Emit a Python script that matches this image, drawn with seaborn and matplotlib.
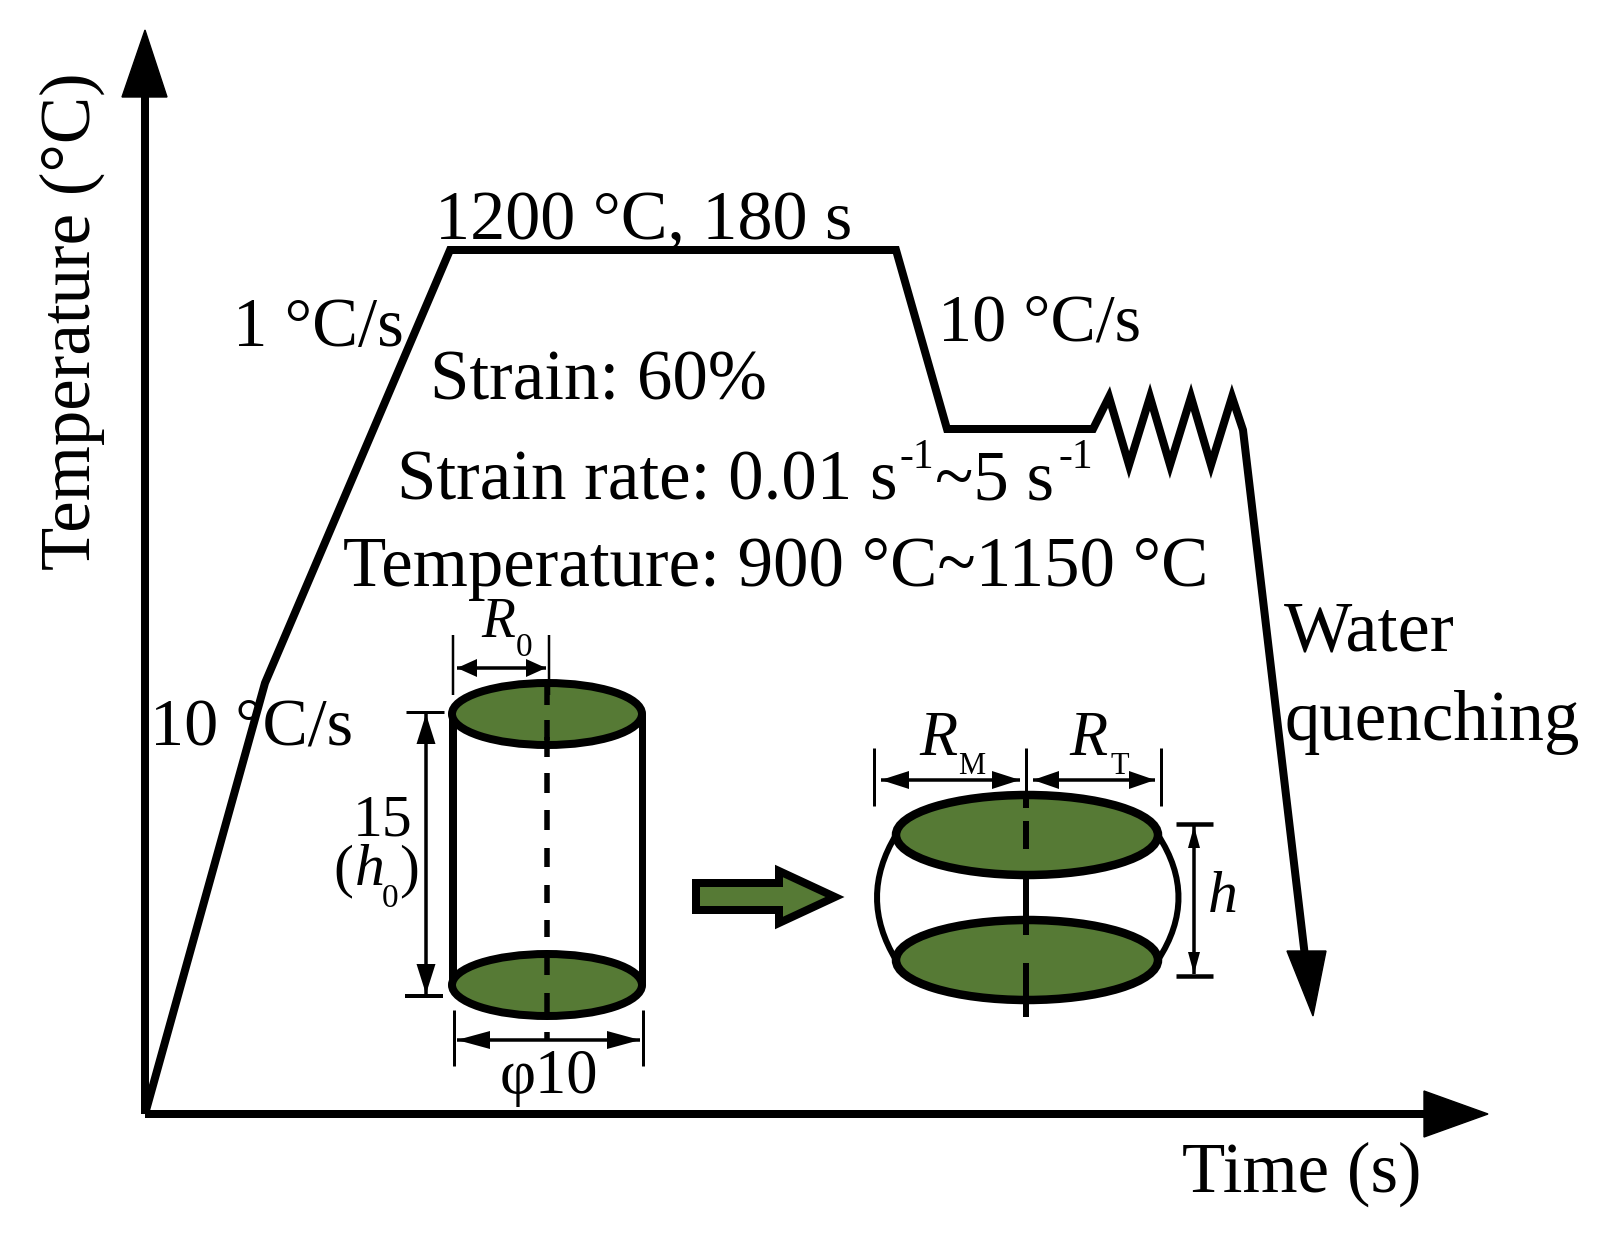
import matplotlib
matplotlib.use("Agg")
import matplotlib.pyplot as plt
from matplotlib.patches import Ellipse, PathPatch, Polygon
from matplotlib.path import Path
import seaborn as sns

# Thermal schedule (figure pixel units)
profile_x = [145, 265, 450, 896, 947, 1093, 1109, 1129, 1150, 1170, 1191, 1211, 1232, 1243, 1306]
profile_y = [1114, 683, 250, 250, 429, 429, 397, 465, 397, 465, 397, 465, 397, 430, 965]
y_axis_x, y_axis_y = [145, 145], [1114, 90]
x_axis_x, x_axis_y = [145, 1430], [1114, 1114]
heads = [
    [(122, 97), (145, 30), (167, 97)],
    [(1424, 1091), (1488, 1114), (1424, 1137)],
    [(1287, 951), (1313, 1016), (1326, 951)],
]

GREEN = "#567a35"
# Cylinder
cyl_left, cyl_right, cyl_cx = 453, 642, 547
cyl_top, cyl_bot = 714, 985
cyl_rx, cyl_ry = 95, 31
cyl_dash_y = [(685, 705), (720, 740), (737, 757), (773, 793), (810, 830), (848, 867),
              (885, 903), (920, 937), (953, 975), (993, 1013), (1032, 1041)]
# Barrel
bar_cx, bar_rx, bar_ry = 1027, 131, 40
bar_top, bar_bot = 835, 960
bar_side_ctrl = (858, 1199)
bar_dash_y = [(791, 808), (821, 849), (875, 935), (963, 1017)]
# Block arrow
block = [(696, 883), (779, 883), (779, 871), (835, 897), (779, 923), (779, 910), (696, 910)]

# Thin dimension tick segments: x0, y0, x1, y1, width (px)
ticks = [
    (453, 635, 453, 695, 2.5), (549, 635, 549, 695, 2.5),
    (406, 712, 444, 712, 3), (405, 996, 443, 996, 4),
    (454, 1010, 454, 1066, 3), (643, 1010, 643, 1066, 3),
    (874, 748, 874, 806, 3), (1026, 748, 1026, 800, 3), (1161, 748, 1161, 806, 3),
    (1176, 824, 1213, 824, 4.5), (1176, 976, 1213, 976, 4.5),
]
# Double arrows: x0, y0, x1, y1, head length, head height
dims = [
    (457, 668, 546, 668, 20, 18),
    (426, 714, 426, 994, 30, 19),
    (457, 1040, 640, 1040, 33, 18),
    (881, 780, 1020, 780, 28, 18),
    (1033, 780, 1155, 780, 26, 18),
    (1194, 826, 1194, 974, 22, 12),
]

# Labels: text, x, y (baseline), size, style
labels = [
    ("1200 °C, 180 s", 435, 239, 50.5, "normal"),
    ("1 °C/s", 233, 346, 49.5, "normal"),
    ("Strain: 60%", 430, 400, 51, "normal"),
    ("Strain rate: 0.01 s", 397, 499, 51, "normal"),
    ("~5 s", 935, 499, 51, "normal"),
    ("-1", 899, 468, 30, "normal"),
    ("-1", 1058, 468, 30, "normal"),
    ("Temperature: 900 °C~1150 °C", 343, 586, 51, "normal"),
    ("10 °C/s", 150, 744, 49, "normal"),
    ("10 °C/s", 938, 341, 49, "normal"),
    ("Water", 1284, 651, 52, "normal"),
    ("quenching", 1284, 740, 51, "normal"),
    ("Time (s)", 1182, 1192, 51, "normal"),
    ("R", 481, 637, 40, "italic"), ("0", 516, 656, 24, "normal"),
    ("15", 353, 836, 43, "normal"),
    ("(", 333, 885, 43, "normal"), ("h", 355, 885, 43, "italic"),
    ("0", 382, 907, 24, "normal"), (")", 399, 885, 43, "normal"),
    ("φ10", 500, 1093, 45, "normal"),
    ("R", 919, 755, 45, "italic"), ("M", 958, 774, 22, "normal"),
    ("R", 1069, 755, 45, "italic"), ("T", 1110, 774, 22, "normal"),
    ("h", 1208, 912, 43, "italic"),
]
y_label = "Temperature (°C)"

sns.set_theme(style="white")
plt.rcParams["font.family"] = ["Liberation Serif", "DejaVu Serif"]
PT = 0.72  # points per figure pixel at dpi 100

fig = plt.figure(figsize=(16.1, 12.36), dpi=100, facecolor="white")
ax = fig.add_axes([0, 0, 1, 1])
ax.set_xlim(0, 1610)
ax.set_ylim(1236, 0)
ax.axis("off")


def line(xs, ys, px, z=3):
    sns.lineplot(x=xs, y=ys, sort=False, estimator=None, errorbar=None, color="black",
                 linewidth=px * PT, ax=ax, zorder=z, legend=False,
                 solid_capstyle="butt", solid_joinstyle="miter")


line(y_axis_x, y_axis_y, 8)
line(x_axis_x, x_axis_y, 8)
line(profile_x, profile_y, 8)
for h in heads:
    ax.add_patch(Polygon(h, closed=True, fc="black", ec="black", lw=1, zorder=4))

# Cylinder
line([cyl_left, cyl_left], [cyl_top, cyl_bot], 8)
line([cyl_right, cyl_right], [cyl_top, cyl_bot], 7)
for cy in (cyl_top, cyl_bot):
    ax.add_patch(Ellipse((cyl_cx, cy), 2 * cyl_rx, 2 * cyl_ry, fc=GREEN, ec="black",
                         lw=8 * PT, zorder=4))
for y0, y1 in cyl_dash_y:
    line([cyl_cx, cyl_cx], [y0, y1], 5.5, z=5)

# Barrel
for side, ctrl in zip((bar_cx - bar_rx, bar_cx + bar_rx), bar_side_ctrl):
    path = Path([(side, bar_top), (ctrl, (bar_top + bar_bot) / 2), (side, bar_bot)],
                [Path.MOVETO, Path.CURVE3, Path.CURVE3])
    ax.add_patch(PathPatch(path, fc="none", ec="black", lw=6 * PT, zorder=3))
for cy in (bar_top, bar_bot):
    ax.add_patch(Ellipse((bar_cx, cy), 2 * bar_rx, 2 * bar_ry, fc=GREEN, ec="black",
                         lw=8.5 * PT, zorder=4))
for y0, y1 in bar_dash_y:
    line([bar_cx - 1, bar_cx - 1], [y0, y1], 6, z=5)

# Block arrow
ax.add_patch(Polygon(block, closed=True, fc=GREEN, ec="black", lw=8 * PT,
                     joinstyle="miter", zorder=4))

# Dimension lines
for x0, y0, x1, y1, w in ticks:
    line([x0, x1], [y0, y1], w, z=5)
for x0, y0, x1, y1, hl, hh in dims:
    line([x0, x1], [y0, y1], 3.5, z=5)
    dx, dy = (1, 0) if y0 == y1 else (0, 1)
    for (px_, py_, s) in ((x0, y0, 1), (x1, y1, -1)):
        tri = [(px_, py_),
               (px_ + s * dx * hl + dy * hh / 2, py_ + s * dy * hl + dx * hh / 2),
               (px_ + s * dx * hl - dy * hh / 2, py_ + s * dy * hl - dx * hh / 2)]
        ax.add_patch(Polygon(tri, closed=True, fc="black", ec="none", zorder=5))

# Text
for s, x, y, size, style in labels:
    ax.text(x, y, s, fontsize=size, fontstyle=style, ha="left", va="baseline",
            color="black", zorder=6)
ax.text(90, 570, y_label, fontsize=51, rotation=90, rotation_mode="anchor",
        ha="left", va="baseline", color="black", zorder=6)

fig.savefig("out.png", dpi=100, facecolor="white")
